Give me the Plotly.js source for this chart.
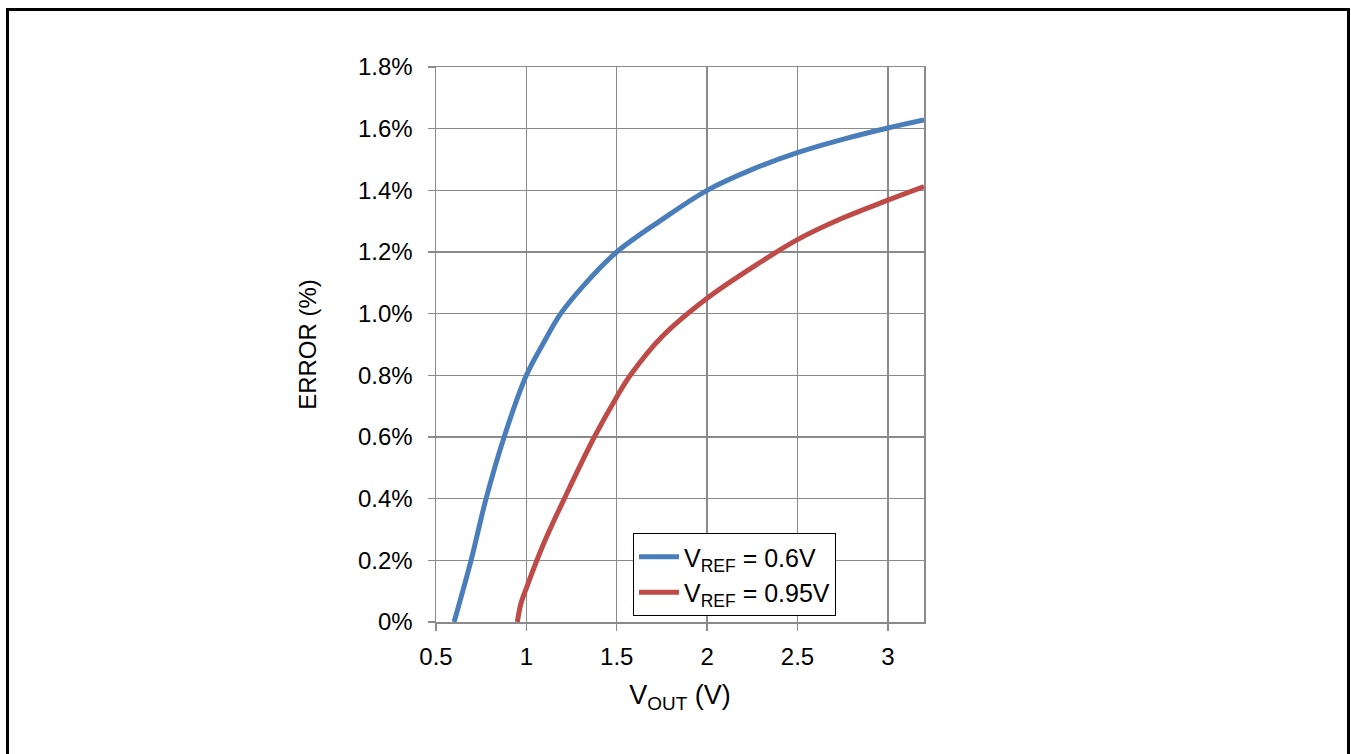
<!DOCTYPE html>
<html>
<head>
<meta charset="utf-8">
<script src="https://cdn.plot.ly/plotly-3.0.1.min.js"></script>
<style>html,body{margin:0;padding:0;background:#fff;}#chart{width:1351px;height:754px;}</style>
</head>
<body>
<div id="chart"></div>
<script>
// Data (VOUT in V, error in %)
const vout06 = [0.60, 0.694, 0.777, 0.877, 1.0, 1.09, 1.19, 1.33, 1.5, 1.75, 2.0, 2.25, 2.5, 2.75, 3.0, 3.2];
const err06  = [0.0, 0.2, 0.4, 0.6, 0.8, 0.9, 1.0, 1.1, 1.2, 1.305, 1.4, 1.468, 1.522, 1.565, 1.602, 1.628];
const vout095 = [0.95, 0.97, 1.0, 1.1, 1.21, 1.376, 1.5, 1.575, 1.75, 2.0, 2.25, 2.5, 2.75, 3.0, 3.2];
const err095  = [0.0, 0.06, 0.11, 0.26, 0.4, 0.6, 0.73, 0.8, 0.925, 1.05, 1.15, 1.24, 1.31, 1.368, 1.412];
const seriesNames = ["V<sub>REF</sub> = 0.6V", "V<sub>REF</sub> = 0.95V"];
const xTickVals = [0.5, 1, 1.5, 2, 2.5, 3];
const xTickText = ["0.5", "1", "1.5", "2", "2.5", "3"];
const yTickVals = [0, 0.2, 0.4, 0.6, 0.8, 1.0, 1.2, 1.4, 1.6, 1.8];
const yTickText = ["0%", "0.2%", "0.4%", "0.6%", "0.8%", "1.0%", "1.2%", "1.4%", "1.6%", "1.8%"];

const FONT = "Liberation Sans, Arial, sans-serif";
const GRID = "#8a8a8a";

const traces = [
  {x: vout06, y: err06, name: seriesNames[0], mode: "lines", line: {color: "#4a7ebb", width: 5, shape: "spline", smoothing: 1}},
  {x: vout095, y: err095, name: seriesNames[1], mode: "lines", line: {color: "#be4b48", width: 5, shape: "spline", smoothing: 1}}
];

const W = 488, H = 555, L = 436, T = 67;
function px2x(p){ return (p - L) / W; }
function py2y(p){ return (T + H - p) / H; }

const layout = {
  width: 1351, height: 754,
  margin: {l: 436, r: 427, t: 67, b: 132, pad: 0},
  paper_bgcolor: "#fff", plot_bgcolor: "#fff",
  font: {family: FONT, size: 24, color: "#000"},
  showlegend: true,
  legend: {
    x: px2x(633), y: py2y(533), xanchor: "left", yanchor: "top",
    bgcolor: "#fff", bordercolor: "#000", borderwidth: 1,
    font: {family: FONT, size: 25, color: "#000"},
    tracegroupgap: 0, itemwidth: 40
  },
  xaxis: {
    range: [0.5, 3.2], tickvals: xTickVals, ticktext: xTickText,
    showgrid: true, gridcolor: GRID, gridwidth: 1.5,
    showline: true, linecolor: GRID, linewidth: 1.5, mirror: true,
    ticks: "outside", ticklen: 7, tickcolor: GRID, tickwidth: 1.5,
    zeroline: false, tickfont: {family: FONT, size: 24}, ticklabelstandoff: 6,
    title: {text: "V<sub>OUT</sub> (V)", font: {family: FONT, size: 27}, standoff: 16}
  },
  yaxis: {
    range: [0, 1.8], tickvals: yTickVals, ticktext: yTickText,
    showgrid: true, gridcolor: GRID, gridwidth: 1.5,
    showline: true, linecolor: GRID, linewidth: 1.5, mirror: true,
    ticks: "outside", ticklen: 7, tickcolor: GRID, tickwidth: 1.5,
    zeroline: false, tickfont: {family: FONT, size: 24}, ticklabelstandoff: 10,
    title: {text: "ERROR (%)", font: {family: FONT, size: 24}, standoff: 34}
  },
  shapes: [{
    type: "rect", xref: "paper", yref: "paper", layer: "above",
    x0: px2x(7.5), x1: px2x(1348.5), y0: py2y(757), y1: py2y(9.5),
    line: {color: "#000", width: 3}, fillcolor: "rgba(0,0,0,0)"
  }]
};

Plotly.newPlot("chart", traces, layout, {displayModeBar: false, staticPlot: true});
</script>
</body>
</html>
